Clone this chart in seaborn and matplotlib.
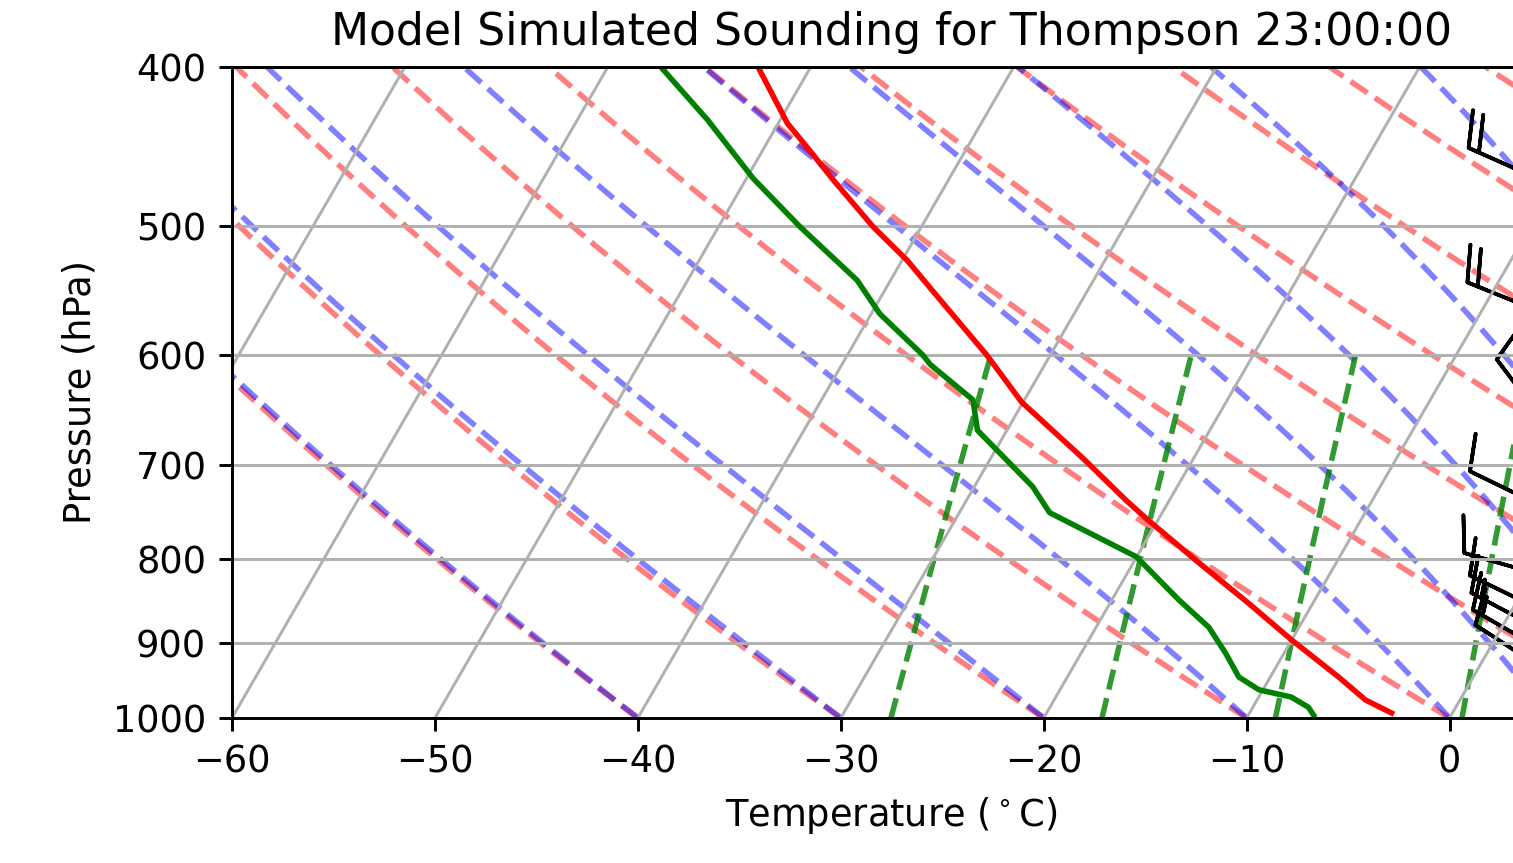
import numpy as np
import pandas as pd
import seaborn as sns
import matplotlib.pyplot as plt
import matplotlib.transforms as mtransforms
from matplotlib.collections import LineCollection
from matplotlib.ticker import ScalarFormatter, NullLocator

# model sounding
temp_p = [993, 975, 944, 896, 851, 804, 755, 736, 693, 641, 600, 555, 525, 501, 469, 448, 433, 400]
temp_t = [-3.0, -4.65, -6.63, -10.0, -13.16, -16.75, -20.64, -22.14, -25.52, -30.08,
          -33.13, -37.01, -39.76, -42.37, -45.67, -47.88, -49.55, -52.6]

dew_p = [996, 985, 971, 961, 944, 913, 880, 847, 797, 749, 722, 667, 639, 608, 600,
         566, 540, 501, 468, 431, 400]
dew_t = [-6.78, -7.26, -8.39, -10.2, -11.55, -12.87, -14.45, -16.69, -20.02, -25.55,
         -27.13, -31.45, -32.54, -35.65, -36.28, -39.59, -41.65, -45.97, -49.66, -53.57, -57.39]

# wind barbs (knots, direction wind comes from)
barb_p = [472, 568, 668, 747, 821, 865, 890, 915, 940]
barb_spd = [20, 20, 10, 10, 10, 10, 15, 15, 10]
barb_dir = [294, 292, 323, 296, 286, 296, 298, 300, 303]

# background lines
dry_t0 = np.arange(-40, 205, 10)
moist_t0 = np.concatenate((np.arange(-40, 0, 10), np.arange(0, 56, 5)))
mix_w = [0.0004, 0.001, 0.002, 0.004, 0.007, 0.01, 0.016, 0.024, 0.032]
isotherms = np.arange(-100, 20, 10)

DPI = 265
W, H = 1513, 863
XMIN, XMAX = -60, 5
P_BOT, P_TOP = 1000, 400

fig = plt.figure(figsize=(W / DPI, H / DPI), dpi=DPI)
ax = fig.add_axes([232 / W, 145 / H, 1319 / W, 651 / H])

# isotherms lean 30 degrees from vertical on screen
SKEW = np.tan(np.radians(30)) * 651 / (1319 / (XMAX - XMIN))


def skew(t, p):
    p = np.asarray(p, dtype=float)
    return np.asarray(t, dtype=float) + SKEW * np.log(P_BOT / p) / np.log(P_BOT / P_TOP)


def moist_lapse(t0, pres):
    Rd, Cp, Lv, eps = 287.04749, 1004.6662, 2.50084e6, 0.6219569

    def dtdp(t, p):
        es = 6.112 * np.exp(17.67 * (t - 273.15) / (t - 29.65))
        rs = eps * es / (p - es)
        return (Rd * t + Lv * rs) / (Cp + Lv * Lv * rs * eps / (Rd * t * t)) / p

    out = [t0 + 273.15]
    t = t0 + 273.15
    for i in range(len(pres) - 1):
        p, h = pres[i], pres[i + 1] - pres[i]
        k1 = dtdp(t, p)
        k2 = dtdp(t + h / 2 * k1, p + h / 2)
        k3 = dtdp(t + h / 2 * k2, p + h / 2)
        k4 = dtdp(t + h * k3, p + h)
        t = t + h / 6 * (k1 + 2 * k2 + 2 * k3 + k4)
        out.append(t)
    return np.array(out) - 273.15


pres = np.linspace(P_BOT, P_TOP, 121)

for t in isotherms:
    ax.plot(skew([t, t], [P_BOT, P_TOP]), [P_BOT, P_TOP], color='#b0b0b0', lw=0.8, zorder=1.5)

dry = [np.column_stack([skew((t0 + 273.15) * (pres / 1000) ** 0.28571 - 273.15, pres), pres])
       for t0 in dry_t0]
ax.add_collection(LineCollection(dry, colors='r', linestyles='dashed', alpha=0.5,
                                 linewidths=1.5, zorder=1))

moist_t = moist_lapse(moist_t0.astype(float), pres)
moist = [np.column_stack([skew(moist_t[:, i], pres), pres]) for i in range(len(moist_t0))]
ax.add_collection(LineCollection(moist, colors='b', linestyles='dashed', alpha=0.5,
                                 linewidths=1.5, zorder=1))

pmix = np.linspace(1000, 600, 50)
mix = []
for w in mix_w:
    e = pmix * w / (0.6219569 + w)
    lg = np.log(e / 6.112)
    td = 243.5 * lg / (17.67 - lg)
    mix.append(np.column_stack([skew(td, pmix), pmix]))
ax.add_collection(LineCollection(mix, colors='g', linestyles='dashed', alpha=0.8,
                                 linewidths=1.5, zorder=1))

df_t = pd.DataFrame({'x': skew(temp_t, temp_p), 'pressure': temp_p})
df_d = pd.DataFrame({'x': skew(dew_t, dew_p), 'pressure': dew_p})
sns.lineplot(data=df_t, x='x', y='pressure', sort=False, estimator=None,
             color='r', linewidth=1.5, ax=ax, zorder=2)
sns.lineplot(data=df_d, x='x', y='pressure', sort=False, estimator=None,
             color='g', linewidth=1.5, ax=ax, zorder=2)

spd = np.array(barb_spd, dtype=float)
rad = np.radians(barb_dir)
u = -spd * np.sin(rad)
v = -spd * np.cos(rad)
trans = mtransforms.blended_transform_factory(ax.transAxes, ax.transData)
ax.barbs(np.ones(len(barb_p)), barb_p, u, v, transform=trans, clip_on=False, length=7)

ax.set_yscale('log')
ax.set_ylim(P_BOT, P_TOP)
ax.set_xlim(XMIN, XMAX)
ax.set_yticks(range(400, 1001, 100))
ax.yaxis.set_major_formatter(ScalarFormatter())
ax.yaxis.set_minor_locator(NullLocator())
ax.set_xticks(range(-60, 6, 10))
ax.yaxis.grid(True)

ax.set_title('Model Simulated Sounding for Thompson 23:00:00')
ax.set_xlabel(r'Temperature ($^\circ$C)')
ax.set_ylabel('Pressure (hPa)')

fig.savefig('out.png', dpi=DPI)
